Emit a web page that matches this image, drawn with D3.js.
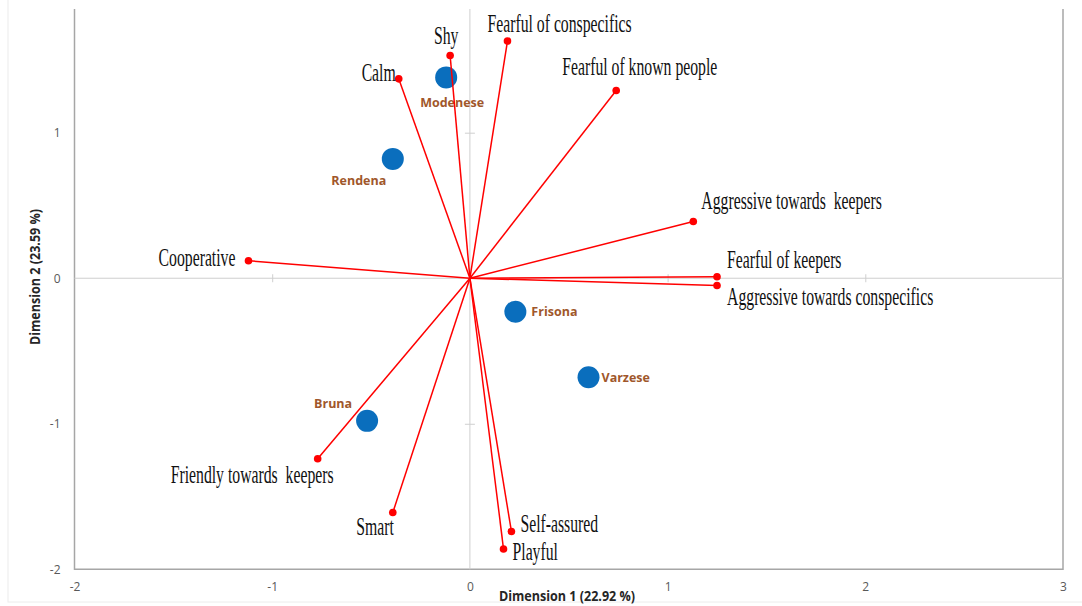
<!DOCTYPE html>
<html>
<head>
<meta charset="utf-8">
<script src="https://cdn.jsdelivr.net/npm/d3@7"></script>
<style>
  body { margin: 0; background: #fff; }
  svg { display: block; }
</style>
</head>
<body>
<svg id="chart" width="1082" height="606"></svg>
<script>
// trait loadings (Dimension 1, Dimension 2)
const traits = ["Shy", "Calm", "Fearful of conspecifics", "Fearful of known people",
    "Aggressive towards  keepers", "Fearful of keepers", "Aggressive towards conspecifics",
    "Cooperative", "Friendly towards  keepers", "Smart", "Self-assured", "Playful"];
const traitDim1 = [-0.10, -0.36, 0.19, 0.74, 1.13, 1.25, 1.25, -1.12, -0.77, -0.39, 0.21, 0.17];
const traitDim2 = [1.53, 1.37, 1.63, 1.29, 0.39, 0.01, -0.05, 0.12, -1.24, -1.61, -1.74, -1.86];

// breed scores
const breeds = ["Modenese", "Rendena", "Frisona", "Varzese", "Bruna"];
const breedDim1 = [-0.12, -0.39, 0.23, 0.60, -0.52];
const breedDim2 = [1.38, 0.82, -0.23, -0.68, -0.98];

const xTicks = [-2, -1, 0, 1, 2, 3];
const yTicks = [-2, -1, 0, 1];
const xTitle = "Dimension 1 (22.92 %)";
const yTitle = "Dimension 2 (23.59 %)";

// label placement relative to the point: [anchor, dx, dy(baseline)]
const traitLabelPos = {
    "Shy": ["middle", -4, -12],
    "Calm": ["end", -3, 2],
    "Fearful of conspecifics": ["start", -20, -9],
    "Fearful of known people": ["start", -54, -15],
    "Aggressive towards  keepers": ["start", 8, -12],
    "Fearful of keepers": ["start", 10, -9],
    "Aggressive towards conspecifics": ["start", 10, 19],
    "Cooperative": ["end", -13, 5],
    "Friendly towards  keepers": ["end", 16, 24],
    "Smart": ["end", 1, 22],
    "Self-assured": ["start", 9, 1],
    "Playful": ["start", 9, 11]
};
const breedLabelPos = {
    "Modenese": ["middle", 6, 30],
    "Rendena": ["middle", -34, 26],
    "Frisona": ["start", 16, 4],
    "Varzese": ["start", 13, 5],
    "Bruna": ["middle", -34, -13]
};

const svg = d3.select("#chart");

const x = d3.scaleLinear().domain([-2, 3]).range([74.5, 1063]);
const y = d3.scaleLinear().domain([-2, 1.85]).range([569.3, 9]);

// faint outer frame
svg.append("rect")
    .attr("x", 8).attr("y", -5)
    .attr("width", 1100).attr("height", 607)
    .attr("fill", "none")
    .attr("stroke", "#ececec");

// plot border (no top edge)
svg.append("path")
    .attr("d", `M${x(-2)},${y(1.85)}V${y(-2)}H${x(3)}V${y(1.85)}`)
    .attr("fill", "none")
    .attr("stroke", "#a6a6a6")
    .attr("stroke-width", 1.5);

// zero lines with cross ticks
const xZero = svg.append("g")
    .attr("transform", `translate(0,${y(0)})`)
    .call(d3.axisBottom(x).tickValues([-1, 1, 2]).tickSize(8).tickFormat(""));
xZero.select(".domain").attr("d", `M${x(-2)},0H${x(3)}`).attr("stroke", "#cfcfcf");
xZero.selectAll(".tick line").attr("y1", -4).attr("y2", 4).attr("stroke", "#cfcfcf");

const yZero = svg.append("g")
    .attr("transform", `translate(${x(0)},0)`)
    .call(d3.axisLeft(y).tickValues([-1, 1]).tickSize(10).tickFormat(""));
yZero.select(".domain").attr("d", `M0,${y(1.85)}V${y(-2)}`).attr("stroke", "#cfcfcf");
yZero.selectAll(".tick line").attr("x1", -5).attr("x2", 5).attr("stroke", "#cfcfcf");

// tick labels (plain hyphen for negatives, like the original)
const xLab = svg.append("g")
    .attr("transform", `translate(0,${y(-2)})`)
    .call(d3.axisBottom(x).tickValues(xTicks).tickSize(0).tickFormat(d => String(d)));
xLab.select(".domain").remove();
xLab.selectAll("text")
    .attr("y", 22).attr("dy", 0)
    .attr("fill", "#595959")
    .style("font", "12px 'Open Sans', sans-serif");

const yLab = svg.append("g")
    .attr("transform", `translate(${x(-2)},0)`)
    .call(d3.axisLeft(y).tickValues(yTicks).tickSize(0).tickFormat(d => String(d)));
yLab.select(".domain").remove();
yLab.selectAll("text")
    .attr("x", -14)
    .attr("fill", "#595959")
    .style("font", "12px 'Open Sans', sans-serif");

// axis titles
svg.append("text")
    .attr("x", 567).attr("y", 601)
    .attr("text-anchor", "middle")
    .attr("fill", "#262626")
    .style("font", "bold 13.5px 'Open Sans', sans-serif")
    .attr("transform", "translate(567,0) scale(0.93,1) translate(-567,0)")
    .text(xTitle);
svg.append("text")
    .attr("transform", "translate(40,277) rotate(-90) scale(0.93,1)")
    .attr("text-anchor", "middle")
    .attr("fill", "#262626")
    .style("font", "bold 13.5px 'Open Sans', sans-serif")
    .text(yTitle);

const traitData = traits.map((t, i) => ({ name: t, d1: traitDim1[i], d2: traitDim2[i] }));
const breedData = breeds.map((b, i) => ({ name: b, d1: breedDim1[i], d2: breedDim2[i] }));

// breed points
const bg = svg.append("g").selectAll("g").data(breedData).enter().append("g");
bg.append("circle")
    .attr("cx", d => x(d.d1))
    .attr("cy", d => y(d.d2))
    .attr("r", 11)
    .attr("fill", "#0a6ebd");
bg.append("text")
    .attr("x", d => x(d.d1) + breedLabelPos[d.name][1])
    .attr("y", d => y(d.d2) + breedLabelPos[d.name][2])
    .attr("text-anchor", d => breedLabelPos[d.name][0])
    .attr("fill", "#a0572b")
    .style("font", "bold 12.5px 'Open Sans', sans-serif")
    .text(d => d.name);

// trait vectors
const tg = svg.append("g").selectAll("g").data(traitData).enter().append("g");
tg.append("line")
    .attr("x1", x(0)).attr("y1", y(0))
    .attr("x2", d => x(d.d1))
    .attr("y2", d => y(d.d2))
    .attr("stroke", "#ff0000")
    .attr("stroke-width", 1.5);
tg.append("circle")
    .attr("cx", d => x(d.d1))
    .attr("cy", d => y(d.d2))
    .attr("r", 3.8)
    .attr("fill", "#ff0000");
tg.append("text")
    .attr("transform", d => {
        const p = traitLabelPos[d.name];
        return `translate(${x(d.d1) + p[1]},${y(d.d2) + p[2]}) scale(0.63,1)`;
    })
    .attr("text-anchor", d => traitLabelPos[d.name][0])
    .attr("fill", "#111")
    .style("font", "25px 'Liberation Serif', 'Times New Roman', serif")
    .style("white-space", "pre")
    .text(d => d.name);
</script>
</body>
</html>
